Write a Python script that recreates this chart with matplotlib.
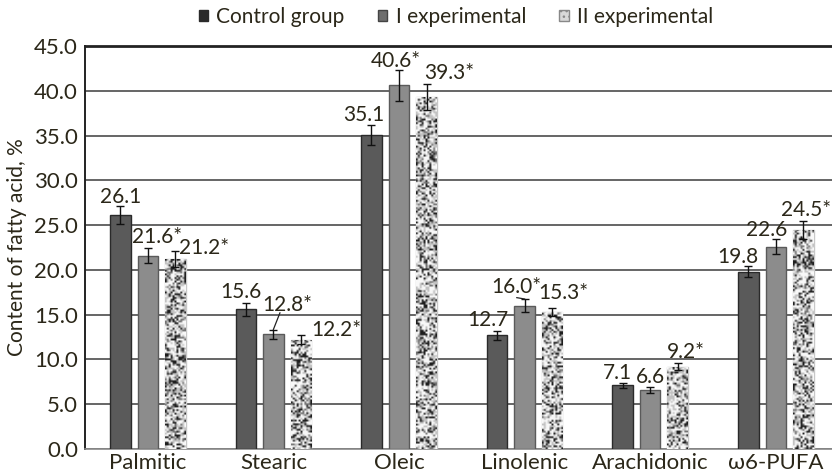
import numpy as np
import matplotlib
matplotlib.use("Agg")
import matplotlib.pyplot as plt
from matplotlib.patches import Patch

plt.rcParams.update({"font.family": ["Lato", "DejaVu Sans"], "font.size": 16,
                     "axes.grid": False})
INK = "#2b2719"

categories = ["Palmitic", "Stearic", "Oleic", "Linolenic", "Arachidonic", "\u03c96-PUFA"]
groups = ["Control group", "I experimental", "II experimental"]
control = [26.1, 15.6, 35.1, 12.7, 7.1, 19.8]
exp_1 = [21.6, 12.8, 40.6, 16.0, 6.6, 22.6]
exp_2 = [21.2, 12.2, 39.3, 15.3, 9.2, 24.5]
control_err = [1.0, 0.7, 1.1, 0.5, 0.3, 0.6]
exp_1_err = [0.8, 0.5, 1.7, 0.7, 0.3, 0.8]
exp_2_err = [0.9, 0.5, 1.5, 0.5, 0.4, 1.0]
# significant vs control
exp_1_sig = [True, True, True, True, False, False]
exp_2_sig = [True, True, True, True, True, True]
yticks = [0, 5, 10, 15, 20, 25, 30, 35, 40, 45]

# label placement (dx in category units, dy in % above the bar value)
label_pos = {
    0: [(0.0, 2.0), (0.07, 2.1), (0.227, 1.3)],
    1: [(-0.04, 1.9), (0.107, 3.3), (0.286, 1.1)],
    2: [(-0.06, 2.2), (-0.025, 2.7), (0.178, 2.7)],
    3: [(-0.074, 1.7), (-0.062, 2.1), (0.093, 2.1)],
    4: [(-0.039, 1.4), (0.0, 1.4), (0.064, 1.6)],
    5: [(-0.084, 1.6), (-0.072, 1.8), (0.02, 2.2)],
}
# leader lines: start point relative to the label centre
leaders = {(1, 1): (-0.055, -0.9), (3, 1): (0.0, -1.2)}

W = 0.163
OFF = 0.219


def speckle(rows, cols, seed):
    # granite-like fill: black / grey / white flecks
    rng = np.random.default_rng(seed)
    levels = np.array([0.12, 0.45, 0.76, 0.97])
    idx = rng.choice(4, size=(rows, cols), p=[0.21, 0.12, 0.27, 0.40])
    return levels[idx]


fig = plt.figure(figsize=(8.32, 4.75), dpi=100)
ax = fig.add_axes([85 / 832, 26 / 475, 753.6 / 832, 403 / 475])

x = np.arange(len(categories))
series = [(control, control_err, "#5a5a5a", "#2a2a2a"),
          (exp_1, exp_1_err, "#8c8c8c", "#5a5a5a"),
          (exp_2, exp_2_err, "white", "#c8c8c8")]

all_bars = []
for i, (vals, errs, fc, ec) in enumerate(series):
    bars = ax.bar(x + (i - 1) * OFF, vals, width=W, color=fc, edgecolor=ec,
                  linewidth=1.0, zorder=3)
    ax.errorbar(x + (i - 1) * OFF, vals, yerr=errs, fmt="none", ecolor="#111111",
                elinewidth=1.0, capsize=3, capthick=1.0, zorder=5)
    all_bars.append(bars)

# texture on the II experimental bars
for k, rect in enumerate(all_bars[2]):
    x0 = rect.get_x()
    h = rect.get_height()
    tex = speckle(int(h * 8.96 / 1.8), 11, 11 + k)
    im = ax.imshow(tex, extent=[x0, x0 + W, 0, h], aspect="auto", cmap="gray",
                   vmin=0, vmax=1, interpolation="bilinear", zorder=3.5)
    im.set_clip_path(rect)

# value labels
for c in range(len(categories)):
    vals = [control[c], exp_1[c], exp_2[c]]
    errs = [control_err[c], exp_1_err[c], exp_2_err[c]]
    stars = [False, exp_1_sig[c], exp_2_sig[c]]
    for i in range(3):
        dx, dy = label_pos[c][i]
        bx = c + (i - 1) * OFF
        txt = f"{vals[i]:.1f}" + ("*" if stars[i] else "")
        ax.text(bx + dx, vals[i] + dy, txt, ha="center", va="center",
                color=INK, fontsize=15, zorder=6)
        if (c, i) in leaders:
            lx, ly = leaders[(c, i)]
            ax.plot([bx + dx + lx, bx], [vals[i] + dy + ly, vals[i] + errs[i] + 0.05],
                    color="#222222", lw=0.9, zorder=6)

ax.set_xlim(-0.5, 5.5)
ax.set_ylim(0, 45)
ax.set_yticks(yticks)
ax.set_yticklabels([f"{t:.1f}" for t in yticks])
ax.set_xticks(x)
ax.set_xticklabels(categories)
ax.tick_params(axis="both", length=0, labelsize=16, colors=INK)
ax.tick_params(axis="y", pad=5)
ax.tick_params(axis="x", pad=3)
ax.set_ylabel("Content of fatty acid, %", fontsize=15, color=INK, labelpad=5)

ax.grid(False, axis="x")
ax.yaxis.grid(True, color="#3c3c3c", lw=1.1, zorder=0)
ax.set_axisbelow(True)
ax.spines["right"].set_visible(False)
ax.spines["top"].set_color("#222222")
ax.spines["top"].set_linewidth(2.0)
ax.spines["left"].set_color("#222222")
ax.spines["left"].set_linewidth(1.4)
ax.spines["bottom"].set_color("#8a8a8a")
ax.spines["bottom"].set_linewidth(1.2)

handles = [Patch(facecolor="#2a2a2a", edgecolor="#2a2a2a"),
           Patch(facecolor="#6e6e6e", edgecolor="#444444"),
           Patch(facecolor="#d8d8d8", edgecolor="#888888", hatch="...")]
fig.legend(handles, groups, loc="center", bbox_to_anchor=(456 / 832, 1 - 17 / 475),
           ncol=3, frameon=False, fontsize=15, handlelength=0.45, handleheight=0.45,
           handletextpad=0.4, columnspacing=1.6, labelcolor=INK)

fig.savefig("out.png", dpi=100)
